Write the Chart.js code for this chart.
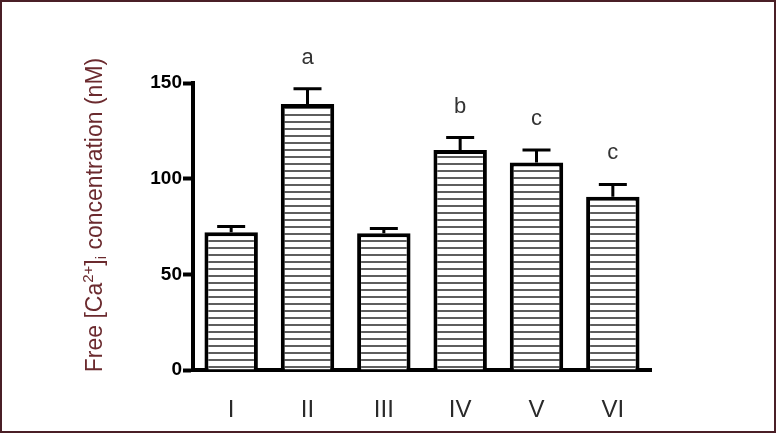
<!DOCTYPE html>
<html>
<head>
<meta charset="utf-8">
<script src="https://cdn.jsdelivr.net/npm/chart.js@4/dist/chart.umd.min.js"></script>
<style>
  html, body { margin: 0; padding: 0; background: #fff; }
  #wrap { width: 776px; height: 433px; }
</style>
</head>
<body>
<div id="wrap"><canvas id="c" width="776" height="433"></canvas></div>
<script>
// ---- data ----
const categories = ['I', 'II', 'III', 'IV', 'V', 'VI'];
const meanValues = [72, 139, 71.5, 115, 108.5, 90.5];
const errorValues = [3, 8, 2.5, 6.5, 6.5, 6.5];
const sigLetters = ['', 'a', '', 'b', 'c', 'c'];
const yTicks = [0, 50, 100, 150];

// hatch pattern
function makeHatch() {
  const p = document.createElement('canvas');
  p.width = 8; p.height = 7;
  const g = p.getContext('2d');
  g.fillStyle = '#ffffff';
  g.fillRect(0, 0, 8, 7);
  g.fillStyle = '#5e5e5e';
  g.fillRect(0, 2, 8, 2);
  return g.createPattern(p, 'repeat');
}
const ctx0 = document.getElementById('c').getContext('2d');
const hatch = makeHatch();

const frame = {
  id: 'frame',
  beforeDraw(chart) {
    const c = chart.ctx;
    c.save();
    c.fillStyle = '#ffffff';
    c.fillRect(0, 0, chart.width, chart.height);
    c.restore();
  },
  afterDraw(chart) {
    const c = chart.ctx;
    c.save();
    c.strokeStyle = '#4a1f26';
    c.lineWidth = 2;
    c.strokeRect(1, 1, chart.width - 2, chart.height - 2);
    // y title with superscript and subscript
    const fam = '"Liberation Sans", Arial, sans-serif';
    const fs = 23, small = 15;
    const parts = [
      { t: 'Free [Ca', f: fs, dy: 0 },
      { t: '2+', f: small, dy: -9 },
      { t: ']', f: fs, dy: 0 },
      { t: 'i', f: small, dy: 4 },
      { t: ' concentration (nM)', f: fs, dy: 0 }
    ];
    let total = 0;
    parts.forEach(p => { c.font = p.f + 'px ' + fam; p.w = c.measureText(p.t).width; total += p.w; });
    c.translate(102, 215);
    c.rotate(-Math.PI / 2);
    c.fillStyle = '#6b2a2e';
    c.textBaseline = 'alphabetic';
    c.textAlign = 'left';
    let x = -total / 2;
    parts.forEach(p => { c.font = p.f + 'px ' + fam; c.fillText(p.t, x, p.dy); x += p.w; });
    c.restore();
  }
};

const errBars = {
  id: 'errBars',
  afterDatasetsDraw(chart) {
    const c = chart.ctx;
    const meta = chart.getDatasetMeta(0);
    const ys = chart.scales.y;
    c.save();
    c.strokeStyle = '#000';
    c.lineWidth = 3;
    meta.data.forEach((bar, i) => {
      const x = bar.x;
      const yTop = ys.getPixelForValue(meanValues[i]);
      const yErr = ys.getPixelForValue(meanValues[i] + errorValues[i]);
      c.beginPath();
      c.moveTo(x, yTop);
      c.lineTo(x, yErr);
      c.moveTo(x - 14, yErr);
      c.lineTo(x + 14, yErr);
      c.stroke();
      if (sigLetters[i]) {
        c.fillStyle = '#333';
        c.font = '22px "Liberation Sans", Arial, sans-serif';
        c.textAlign = 'center';
        c.textBaseline = 'alphabetic';
        c.fillText(sigLetters[i], x, yErr - 25);
      }
    });
    c.restore();
  }
};

new Chart(ctx0, {
  type: 'bar',
  data: {
    labels: categories,
    datasets: [{
      data: meanValues,
      backgroundColor: hatch,
      borderColor: '#000',
      borderWidth: 4,
      borderSkipped: 'bottom',
      barPercentage: 0.7,
      categoryPercentage: 1.0
    }]
  },
  options: {
    responsive: false,
    animation: false,
    devicePixelRatio: 1,
    layout: { padding: { top: 83, right: 125, bottom: 0, left: 0 } },
    plugins: { legend: { display: false }, tooltip: { enabled: false } },
    scales: {
      x: {
        grid: { display: false },
        border: { display: true, color: '#000', width: 4 },
        ticks: {
          color: '#2a2a2a',
          padding: 18,
          font: { family: '"Liberation Sans", Arial, sans-serif', size: 24 }
        },
        afterFit(s) { s.height = 63; }
      },
      y: {
        min: 0, max: 150,
        afterBuildTicks(s) { s.ticks = yTicks.map(v => ({ value: v })); },
        grid: { drawOnChartArea: false, drawTicks: true, tickLength: 10, tickWidth: 4, tickColor: '#000', color: '#000' },
        border: { display: true, color: '#000', width: 4 },
        ticks: {
          color: '#000',
          padding: 1,
          font: { family: '"Liberation Sans", Arial, sans-serif', size: 19, weight: 'bold' }
        },
        afterFit(s) { s.width = 193; }
      }
    }
  },
  plugins: [frame, errBars]
});
</script>
</body>
</html>
